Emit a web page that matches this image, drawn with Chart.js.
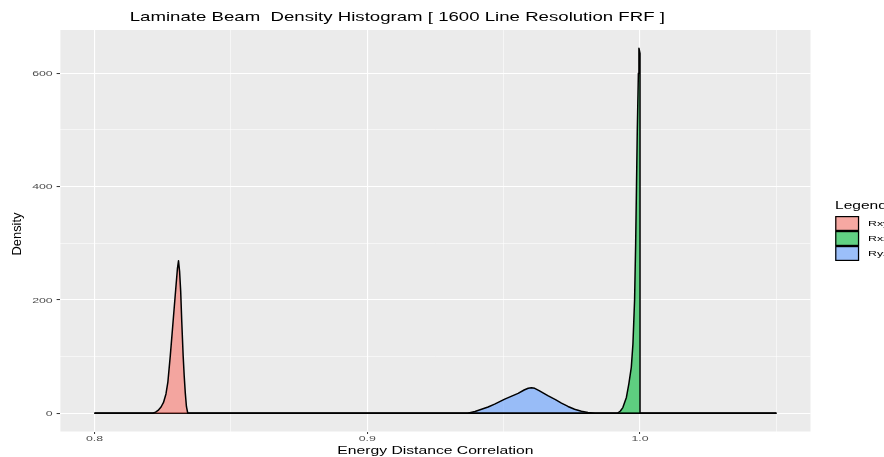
<!DOCTYPE html>
<html>
<head>
<meta charset="utf-8">
<title>Laminate Beam Density Histogram</title>
<script src="https://cdn.jsdelivr.net/npm/chart.js@4.4.1/dist/chart.umd.min.js"></script>
<style>
    html, body { margin: 0; padding: 0; background: #ffffff; overflow: hidden; }
</style>
</head>
<body>
<canvas id="densitychart" width="884" height="457"></canvas>
<script>
"use strict";

/* chart data */
var chartTitle = 'Laminate Beam  Density Histogram [ 1600 Line Resolution FRF ]';
var xTitle = 'Energy Distance Correlation';
var yTitle = 'Density';
var legendTitle = 'Legend';
var seriesNames = ['Rxy', 'Rxz', 'Ryz'];

var rxyX = [0.8, 0.8214, 0.8224, 0.8233, 0.8244, 0.8253, 0.8262, 0.8269, 0.8278, 0.8288, 0.8298, 0.8304, 0.8308, 0.8312, 0.8316, 0.8320, 0.8325, 0.8329, 0.8333, 0.8337, 0.8342, 1.05];
var rxyY = [0, 0, 2, 5, 11, 19, 34, 55, 102, 161, 220, 255, 269, 250, 215, 161, 102, 65, 35, 12, 0, 0];

var rxzX = [0.8, 0.9917, 0.9928, 0.9937, 0.9950, 0.9959, 0.9968, 0.9974, 0.9980, 0.9984, 0.9987, 0.9990, 0.9994, 0.9996, 1.0, 1.0, 1.05];
var rxzY = [0, 0, 4, 10, 28, 52, 81, 122, 199, 299, 399, 499, 600, 644, 635, 0, 0];

var ryzX = [0.8, 0.9368, 0.9395, 0.9419, 0.9443, 0.9467, 0.9504, 0.9553, 0.9575, 0.9590, 0.9602, 0.9614, 0.9630, 0.9662, 0.9690, 0.9712, 0.9736, 0.9760, 0.9785, 0.9809, 0.9835, 1.05];
var ryzY = [0, 0, 3, 7, 11, 16, 25, 35, 41, 44, 45, 44, 40, 31, 24, 18, 12, 7, 3.5, 1.5, 0, 0];

var xTicks = [0.8, 0.85, 0.9, 0.95, 1.0, 1.05];
var xLabels = ['0.8', '', '0.9', '', '1.0', ''];
var yTicks = [0, 100, 200, 300, 400, 500, 600];
var yLabels = ['0', '', '200', '', '400', '', '600'];

/* styles */
var S = 1.54; // the reference text is stretched sideways by this much
var FONT = '"Liberation Sans", Arial, Helvetica, sans-serif';
var fills = ['rgba(248, 118, 109, 0.6)', 'rgba(0, 186, 56, 0.6)', 'rgba(97, 156, 255, 0.6)'];

function points(xs, ys) {
    return xs.map(function (x, i) { return { x: x, y: ys[i] }; });
}

/* text drawn wide, like the reference */
function wideText(ctx, text, x, y, size, color, align, baseline) {
    ctx.save();
    ctx.translate(x, y);
    ctx.scale(S, 1);
    ctx.font = size + 'px ' + FONT;
    ctx.fillStyle = color;
    ctx.textAlign = align;
    ctx.textBaseline = baseline;
    ctx.fillText(text, 0, 0);
    ctx.restore();
}

var decorations = {
    id: 'decorations',
    beforeDraw: function (chart) {
        var ctx = chart.ctx, area = chart.chartArea;
        ctx.save();
        ctx.fillStyle = '#ffffff';
        ctx.fillRect(0, 0, chart.width, chart.height);
        ctx.fillStyle = '#EBEBEB';
        ctx.fillRect(area.left, area.top, area.right - area.left, area.bottom - area.top);
        ctx.restore();
    },
    afterDraw: function (chart) {
        var ctx = chart.ctx, area = chart.chartArea;
        var xs = chart.scales.x, ys = chart.scales.y;

        wideText(ctx, chartTitle, 129.7, 21, 12.1, '#000000', 'left', 'alphabetic');

        // tick labels
        xTicks.forEach(function (v, i) {
            if (xLabels[i]) wideText(ctx, xLabels[i], xs.getPixelForValue(v), 440.7, 8, '#4D4D4D', 'center', 'alphabetic');
        });
        yTicks.forEach(function (v, i) {
            if (yLabels[i]) wideText(ctx, yLabels[i], area.left - 7.7, ys.getPixelForValue(v) + 2.8, 8, '#4D4D4D', 'right', 'alphabetic');
        });

        wideText(ctx, xTitle, (area.left + area.right) / 2, 454, 10.2, '#000000', 'center', 'alphabetic');

        // y title is not stretched in the reference
        ctx.save();
        ctx.translate(17.5, 234);
        ctx.rotate(-Math.PI / 2);
        ctx.font = '12.9px ' + FONT;
        ctx.fillStyle = '#000000';
        ctx.textAlign = 'center';
        ctx.textBaseline = 'middle';
        ctx.fillText(yTitle, 0, 0);
        ctx.restore();

        // legend
        wideText(ctx, legendTitle, 835, 208.5, 10.1, '#000000', 'left', 'alphabetic');
        var keyLeft = 835, keyW = 24.3, keyTop = 216, keyH = 15;
        seriesNames.forEach(function (name, i) {
            var y = keyTop + i * keyH;
            ctx.save();
            ctx.fillStyle = '#F2F2F2';
            ctx.fillRect(keyLeft, y, keyW, keyH);
            ctx.fillStyle = fills[i];
            ctx.fillRect(keyLeft, y, keyW, keyH);
            ctx.strokeStyle = '#000000';
            ctx.lineWidth = 1.2;
            ctx.strokeRect(keyLeft + 0.8, y + 0.6, keyW - 1.6, keyH - 1.2);
            ctx.restore();
            wideText(ctx, name, 868, y + keyH / 2 + 2.8, 8, '#000000', 'left', 'alphabetic');
        });
    }
};

var densitychart = document.getElementById('densitychart').getContext('2d');
var densityConfig = {
    type: 'line',
    data: {
        datasets: [
            { label: seriesNames[0], data: points(rxyX, rxyY), backgroundColor: fills[0] },
            { label: seriesNames[1], data: points(rxzX, rxzY), backgroundColor: fills[1] },
            { label: seriesNames[2], data: points(ryzX, ryzY), backgroundColor: fills[2] }
        ].map(function (ds) {
            ds.borderColor = '#000000';
            ds.borderWidth = 1.5;
            ds.borderJoinStyle = 'round';
            ds.pointRadius = 0;
            ds.tension = 0;
            ds.fill = 'origin';
            return ds;
        })
    },
    options: {
        responsive: false,
        animation: false,
        events: [],
        layout: { padding: { left: 0, right: 73.5, top: 30, bottom: 0 } },
        plugins: {
            legend: { display: false },
            tooltip: { enabled: false }
        },
        scales: {
            x: {
                type: 'linear',
                min: 0.7875,
                max: 1.0625,
                afterBuildTicks: function (axis) {
                    axis.ticks = xTicks.map(function (v) { return { value: v }; });
                },
                afterFit: function (axis) { axis.height = 25.5; },
                ticks: { display: false },
                grid: {
                    color: '#ffffff',
                    lineWidth: function (c) { return xLabels[c.index] ? 1.1 : 0.55; },
                    tickColor: function (c) { return xLabels[c.index] ? '#333333' : 'rgba(0,0,0,0)'; },
                    tickWidth: 1,
                    tickLength: 2.5
                },
                border: { display: false }
            },
            y: {
                min: -32.2,
                max: 676.2,
                afterBuildTicks: function (axis) {
                    axis.ticks = yTicks.map(function (v) { return { value: v }; });
                },
                afterFit: function (axis) { axis.width = 60.4; },
                ticks: { display: false },
                grid: {
                    color: '#ffffff',
                    lineWidth: function (c) { return yLabels[c.index] ? 1.1 : 0.55; },
                    tickColor: function (c) { return yLabels[c.index] ? '#333333' : 'rgba(0,0,0,0)'; },
                    tickWidth: 1,
                    tickLength: 3.8
                },
                border: { display: false }
            }
        }
    },
    plugins: [decorations]
};
var densityChart = new Chart(densitychart, densityConfig);
</script>
</body>
</html>
